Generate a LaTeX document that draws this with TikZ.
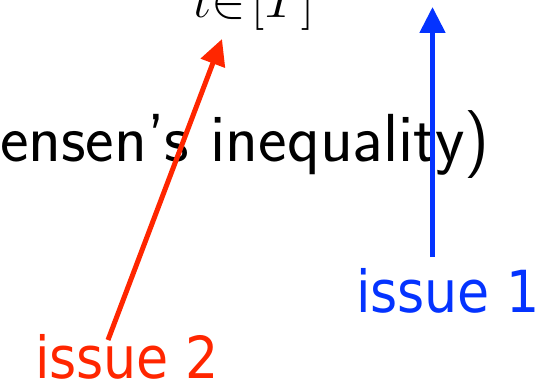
\RequirePackage{fix-cm}
\documentclass[tikz,border=0pt]{standalone}
\usepackage{fontspec}
\newfontfamily\issuefont{DejaVu Sans Condensed}
\usetikzlibrary{arrows.meta}
\definecolor{issueblue}{RGB}{4,51,255}
\definecolor{issuered}{RGB}{255,38,0}
\begin{document}
\begin{tikzpicture}[x=1pt,y=-1pt,
  lbl/.style={inner sep=0pt, outer sep=0pt, anchor=base west},
  issue/.style={lbl, font=\issuefont\fontsize{58}{68}\selectfont},
  arr/.style={line width=5pt, -{Triangle[width=25pt,length=26pt]}}]
\useasboundingbox (0,0) rectangle (548,387);
\clip (0,0) rectangle (548,387);
\node[lbl, font=\sffamily\fontsize{68}{80}\selectfont] (jensen) at (0,162) {ensen's inequality)};
\node[lbl, font=\fontsize{74}{88}\selectfont] (sub) at (193,18) {$\scriptstyle t\in\mkern2mu[T]$};
\node[issue, text=issueblue] (i1) at (356,312) {issue 1};
\node[issue, text=issuered] (i2) at (35,378) {issue 2};
\coordinate (b1) at (432.5,257);
\coordinate (b2) at (432.5,7);
\coordinate (r1) at (108,340);
\coordinate (r2) at (222,39);
\draw[arr, issueblue] (b1) -- (b2);
\draw[arr, issuered] (r1) -- (r2);
\end{tikzpicture}
\end{document}
